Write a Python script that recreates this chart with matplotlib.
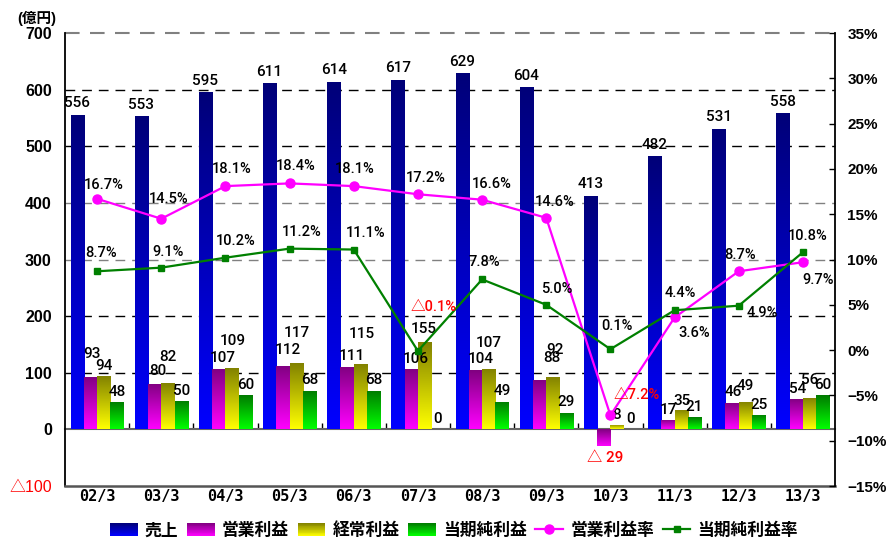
import numpy as np
import matplotlib
matplotlib.use('Agg')
import matplotlib.pyplot as plt
from matplotlib.colors import LinearSegmentedColormap, to_rgb
from matplotlib.patches import Rectangle
from matplotlib.legend_handler import HandlerBase
from matplotlib.lines import Line2D

plt.rcParams['font.family'] = ['Liberation Sans', 'Noto Sans CJK JP', 'DejaVu Sans']

# ---------------- data ----------------
categories = ['02/3', '03/3', '04/3', '05/3', '06/3', '07/3',
              '08/3', '09/3', '10/3', '11/3', '12/3', '13/3']
sales = [556, 553, 595, 611, 614, 617, 629, 604, 413, 482, 531, 558]
op_income = [93, 80, 107, 112, 111, 106, 104, 88, -29, 17, 46, 54]
ord_income = [94, 82, 109, 117, 115, 155, 107, 92, 8, 35, 49, 56]
net_income = [48, 50, 60, 68, 68, 0, 49, 29, 0, 21, 25, 60]
op_margin = [16.7, 14.5, 18.1, 18.4, 18.1, 17.2, 16.6, 14.6, -7.2, 3.6, 8.7, 9.7]
net_margin = [8.7, 9.1, 10.2, 11.2, 11.1, -0.1, 7.8, 5.0, 0.1, 4.4, 4.9, 10.8]
left_ticks = [-100, 0, 100, 200, 300, 400, 500, 600, 700]
right_ticks = [-15, -10, -5, 0, 5, 10, 15, 20, 25, 30, 35]
bar_names = ['売上', '営業利益', '経常利益', '当期純利益']
line_names = ['営業利益率', '当期純利益率']
unit_label = '(億円)'

# ---------------- styles / label placement (pixels) ----------------
grad_colors = [('#000078', '#0000FF'), ('#800080', '#FF00FF'),
               ('#808000', '#FFFF00'), ('#007A00', '#00FF00')]
op_color = '#FF00FF'
net_color = '#008000'
red = '#FF0000'
label_font = ['Roboto', 'Liberation Sans', 'Noto Sans CJK JP']

op_lab_dx = [1.5, 3, 4, 5, 5, 4, 5, 12, 1, 0.5, 1, 1]
op_lab_dy = [23, 13, 11, 16, 11, 10, 11, 22, -12, 10, 11, 10]
ord_lab_dx = [0, 0, 1, 1, 1, -1, 0, 2, 0, 0.5, 0, 0.5]
ord_lab_dy = [10, 26, 27, 30, 30, 13, 26, 27, 10, 9, 16, 18]
op_pct_dx = [7, 7, 6, 6, 1, 8, 10, 8, 26, 20, 1, 15]
op_pct_dy = [14, 20, 17, 17, 17, 16, 16, 16, 20, -16, 16, -18]
net_pct_dx = [4, 7, 10, 12, 12, 16, 2, 10, 7, 6, 24, 5]
net_pct_dy = [18, 16, 17, 17, 17, 44, 17, 16, 23, 17, -7, 16]
PX = 0.72  # px -> points at 100 dpi

W, H = 888, 541
fig = plt.figure(figsize=(W / 100, H / 100), dpi=100)
ax = fig.add_axes([65 / W, 1 - 486 / H, (835 - 65) / W, (486 - 33) / H])
ax2 = ax.twinx()

n = len(categories)
x = np.arange(n)
bw = 0.207
ymin, ymax = left_ticks[0], left_ticks[-1]


def fill_gradient(axis, patch, top, bottom):
    px, py = patch.get_x(), patch.get_y()
    w, h = patch.get_width(), patch.get_height()
    if h == 0:
        return
    y0, y1 = min(py, py + h), max(py, py + h)
    cmap = LinearSegmentedColormap.from_list('g', [bottom, top])
    img = axis.imshow(np.linspace(0, 1, 128).reshape(-1, 1),
                      extent=(px, px + w, y0, y1), origin='lower',
                      aspect='auto', cmap=cmap, zorder=2,
                      interpolation='bilinear')
    img.set_clip_path(patch)


series = [sales, op_income, ord_income, net_income]
for k, vals in enumerate(series):
    offs = (k - 1.5) * bw
    bars = ax.bar(x + offs, vals, bw, facecolor='none', edgecolor='none',
                  zorder=2)
    for b in bars:
        fill_gradient(ax, b, *grad_colors[k])

# grid lines
for t in left_ticks:
    if t in (ymin, 0):
        continue
    col = '#808080' if t in (300, 400, 700) else 'black'
    lw = 1.5 if t == 700 else 1.0
    ax.axhline(t, color=col, lw=lw, ls=(0, (7, 5)), zorder=1, clip_on=False)

ax.set_xlim(-0.5, n - 0.5)
ax.set_ylim(ymin, ymax)
ax.set_yticks(left_ticks)
ax.set_yticklabels(['△100' if t < 0 else str(t) for t in left_ticks])
for lab, t in zip(ax.get_yticklabels(), left_ticks):
    lab.set_fontsize(11.5)
    lab.set_fontweight('bold')
    if t < 0:
        lab.set_color(red)
        lab.set_fontweight('normal')
ax.tick_params(axis='y', length=0, pad=9.5)
ax.set_xticks(x)
ax.set_xticklabels(categories, fontfamily='DejaVu Sans Mono',
                   fontweight='bold', fontsize=11)
ax.tick_params(axis='x', length=0, pad=2)

ax.spines['top'].set_visible(False)
ax.spines['right'].set_visible(False)
ax.spines['left'].set_linewidth(1.3)
ax.spines['bottom'].set_color('#555555')
ax.spines['bottom'].set_linewidth(1.8)

# zero line with category boundary ticks
sec = ax.secondary_xaxis((0 - ymin) / (ymax - ymin))
sec.set_xticks(np.arange(0.5, n - 0.5, 1))
sec.tick_params(direction='in', length=4, width=1, labelbottom=False,
                labeltop=False)
for s in sec.spines.values():
    s.set_color('#666666')
    s.set_linewidth(1.5)

# bar value labels
lab_kw = dict(textcoords='offset points', ha='center', va='center',
              fontsize=11, fontfamily=label_font, fontweight='medium',
              zorder=6)
for i in range(n):
    ax.annotate(str(sales[i]), (x[i] - 1.5 * bw, sales[i]),
                xytext=(0, 11.5 * PX), **lab_kw)
    v = op_income[i]
    txt = str(v) if v >= 0 else '△ ' + str(abs(v))
    ax.annotate(txt, (x[i] - 0.5 * bw, v),
                xytext=(op_lab_dx[i] * PX, op_lab_dy[i] * PX),
                color=red if v < 0 else 'black', **lab_kw)
    ax.annotate(str(ord_income[i]), (x[i] + 0.5 * bw, ord_income[i]),
                xytext=(ord_lab_dx[i] * PX, ord_lab_dy[i] * PX), **lab_kw)
    ax.annotate(str(net_income[i]), (x[i] + 1.5 * bw, net_income[i]),
                xytext=(0, 10.5 * PX), **lab_kw)

# lines on right axis
ax2.plot(x, op_margin, color=op_color, lw=1.6, marker='o', markersize=6.5,
         zorder=4)
ax2.plot(x, net_margin, color=net_color, lw=1.6, marker='s', markersize=4.5,
         zorder=4)
ax2.set_ylim(right_ticks[0], right_ticks[-1])
ax2.set_yticks(right_ticks)
ax2.set_yticklabels([f'{t}%'.replace('-', '−') for t in right_ticks],
                    fontsize=11, fontweight='bold')
ax2.tick_params(axis='y', direction='in', length=4, width=1, pad=9)
for side in ('top', 'left', 'bottom'):
    ax2.spines[side].set_visible(False)
ax2.spines['right'].set_linewidth(1.3)


def pct(v):
    return f'{v:.1f}%' if v >= 0 else f'△{abs(v):.1f}%'


pct_kw = dict(textcoords='offset points', ha='center', va='center',
              fontsize=10.5, fontfamily=label_font, fontweight='medium',
              zorder=6)
for i in range(n):
    ax2.annotate(pct(op_margin[i]), (x[i], op_margin[i]),
                 xytext=(op_pct_dx[i] * PX, op_pct_dy[i] * PX),
                 color=red if op_margin[i] < 0 else 'black', **pct_kw)
    ax2.annotate(pct(net_margin[i]), (x[i], net_margin[i]),
                 xytext=(net_pct_dx[i] * PX, net_pct_dy[i] * PX),
                 color=red if net_margin[i] < 0 else 'black', **pct_kw)

# unit label
fig.text(17 / W, 1 - 18 / H, unit_label, fontsize=10.5, fontweight='bold',
         ha='left', va='center')


# legend with gradient patches
class GradientHandler(HandlerBase):
    def __init__(self, top, bottom, steps=16):
        super().__init__()
        self.top = np.array(to_rgb(top))
        self.bottom = np.array(to_rgb(bottom))
        self.steps = steps

    def create_artists(self, legend, orig_handle, xdescent, ydescent,
                       width, height, fontsize, trans):
        arts = []
        for k in range(self.steps):
            t = (k + 0.5) / self.steps
            col = self.bottom + (self.top - self.bottom) * t
            arts.append(Rectangle((-xdescent, -ydescent + height * k / self.steps),
                                  width, height / self.steps * 1.08,
                                  facecolor=col, edgecolor='none', lw=0,
                                  transform=trans))
        return arts


proxies = [Rectangle((0, 0), 1, 1) for _ in bar_names]
hmap = {p: GradientHandler(*grad_colors[k]) for k, p in enumerate(proxies)}
lines = [Line2D([], [], color=op_color, lw=1.6, marker='o', markersize=6.5),
         Line2D([], [], color=net_color, lw=1.6, marker='s', markersize=4.5)]
leg = fig.legend(proxies + lines, bar_names + line_names, handler_map=hmap,
                 loc='center', bbox_to_anchor=(454 / W, 1 - 530 / H),
                 ncol=6, frameon=False, handlelength=1.65, handleheight=0.75,
                 handletextpad=0.42, columnspacing=0.52, borderpad=0,
                 prop={'size': 12.1, 'weight': 'bold'})

fig.savefig('out.png', dpi=100)
